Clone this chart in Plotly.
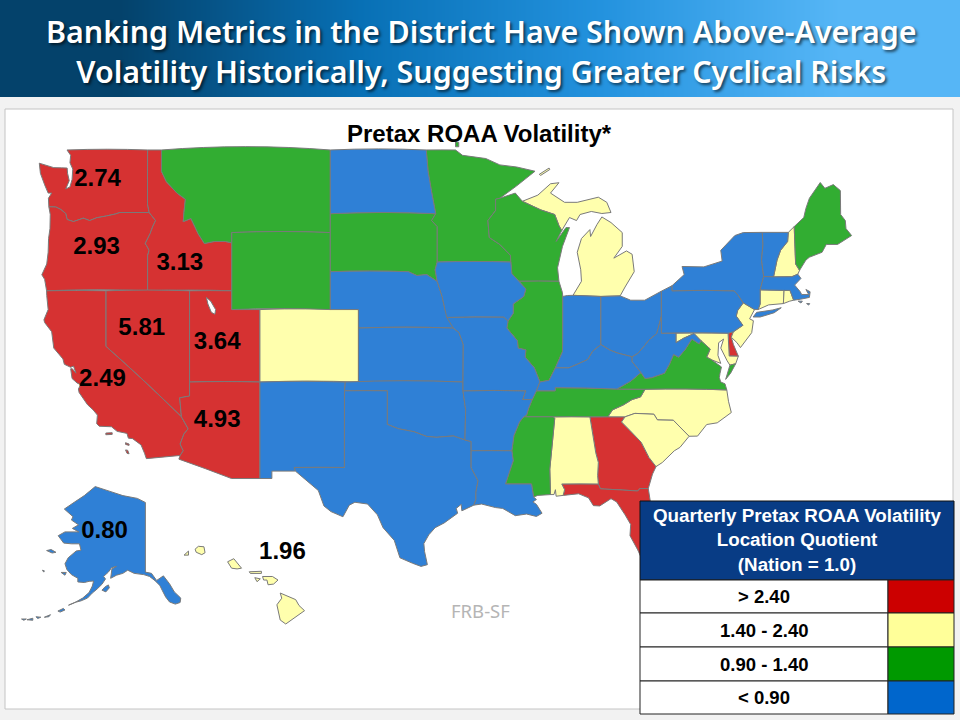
"""Pretax ROAA volatility by state, filled outlines on a Mercator geo subplot."""

import math

import plotly.graph_objects as go

# Values printed on the map (District states only)
label_states = ["WA", "OR", "ID", "NV", "UT", "CA", "AZ", "AK", "HI"]
label_values = ["2.74", "2.93", "3.13", "5.81", "3.64", "2.49", "4.93", "0.80", "1.96"]
label_lon = [-120.59, -120.66, -114.74, -117.45, -112.09, -120.24, -112.09, -120.09, -107.45]
label_lat = [47.59, 44.21, 43.41, 39.97, 39.21, 37.11, 34.77, 28.03, 26.71]

# Colour band of every state
band_high = ["WA", "OR", "ID", "NV", "CA", "UT", "AZ", "GA", "FL", "DE"]
band_upper = ["CO", "MI", "NH", "CT", "RI", "NJ", "MD", "NC", "SC", "AL", "HI"]
band_mid = ["MT", "WY", "SD", "MN", "WI", "IL", "TN", "MS", "VA", "ME"]
band_low = ["ND", "NE", "KS", "OK", "TX", "NM", "AR", "LA", "MO", "IA", "IN", "OH",
            "KY", "WV", "PA", "NY", "VT", "MA", "AK"]

legend_labels = ["> 2.40", "1.40 - 2.40", "0.90 - 1.40", "< 0.90"]
legend_colors = ["#cc0000", "#ffff99", "#009900", "#0066cc"]
map_colors = ["#d63232", "#ffffad", "#32ad32", "#2f80d6"]

# State outlines, lon/lat. No basemap can be fetched here so they live in the file.
WA = [[(-117.03, 49), (-122.76, 49), (-122.5, 48.75), (-122.55, 48.4), (-122.35, 48.1), (-122.4, 47.6),
       (-122.55, 47.25), (-122.85, 47.15), (-122.6, 47.55), (-122.72, 47.9), (-122.75, 48.15), (-123.15, 48.16),
       (-123.7, 48.17), (-124.73, 48.38), (-124.65, 47.9), (-124.35, 47.35), (-124.1, 46.95), (-123.85, 46.95),
       (-124.08, 46.7), (-124.05, 46.28), (-123.55, 46.27), (-123.2, 46.15), (-122.85, 45.95), (-122.75, 45.65),
       (-122.3, 45.55), (-121.6, 45.72), (-121.15, 45.6), (-120.65, 45.74), (-119.95, 45.83), (-119.3, 45.93),
       (-119, 46), (-116.92, 46), (-117.04, 46.42), (-117.04, 47.5)]]
OR = [[(-124.05, 46.28), (-123.55, 46.27), (-123.2, 46.15), (-122.85, 45.95), (-122.75, 45.65), (-122.3, 45.55),
       (-121.6, 45.72), (-121.15, 45.6), (-120.65, 45.74), (-119.95, 45.83), (-119.3, 45.93), (-119, 46),
       (-116.92, 46), (-116.47, 45.6), (-116.67, 45.3), (-116.85, 44.95), (-117.2, 44.45), (-117.03, 44.25),
       (-116.93, 44.1), (-117.03, 43.83), (-117.03, 42), (-124.21, 42), (-124.35, 42.6), (-124.55, 42.84),
       (-124.2, 43.4), (-124.1, 44), (-124.07, 44.7), (-123.97, 45.2), (-123.95, 45.9)]]
ID = [[(-117.03, 49), (-116.05, 49), (-116.05, 48), (-115.7, 47.5), (-114.95, 46.95), (-114.35, 46.65),
       (-114.45, 46), (-114.5, 45.55), (-113.95, 45.7), (-113.45, 44.95), (-113, 44.45), (-112.3, 44.55),
       (-111.5, 44.55), (-111.05, 44.48), (-111.05, 42), (-117.03, 42), (-117.03, 43.83), (-116.93, 44.1),
       (-117.03, 44.25), (-117.2, 44.45), (-116.85, 44.95), (-116.67, 45.3), (-116.47, 45.6), (-116.92, 46),
       (-117.04, 46.42), (-117.04, 47.5)]]
MT = [[(-116.05, 49), (-104.05, 49), (-104.05, 45), (-111.05, 45), (-111.05, 44.48), (-111.5, 44.55),
       (-112.3, 44.55), (-113, 44.45), (-113.45, 44.95), (-113.95, 45.7), (-114.5, 45.55), (-114.45, 46),
       (-114.35, 46.65), (-114.95, 46.95), (-115.7, 47.5), (-116.05, 48)]]
WY = [[(-111.05, 45), (-104.05, 45), (-104.05, 41), (-111.05, 41)]]
UT = [[(-114.05, 42), (-111.05, 42), (-111.05, 41), (-109.05, 41), (-109.05, 37), (-114.05, 37)]]
UT_LAKE = [(-112.85, 41.65), (-112.55, 41.45), (-112.2, 41.0), (-112.25, 40.75), (-112.5, 40.85), (-112.75, 41.3)]
NV = [[(-120, 42), (-114.05, 42), (-114.05, 36.2), (-114.75, 36.1), (-114.63, 35), (-120, 39)]]
CA = [[(-124.21, 42), (-120, 42), (-120, 39), (-114.63, 35), (-114.15, 34.3), (-114.45, 34), (-114.72, 33.4),
       (-114.5, 33), (-114.72, 32.72), (-117.12, 32.53), (-117.25, 32.85), (-117.5, 33.35), (-118.1, 33.72),
       (-118.4, 33.75), (-118.5, 34.03), (-119.2, 34.15), (-119.6, 34.42), (-120.47, 34.45), (-120.65, 34.6),
       (-120.6, 35.1), (-120.9, 35.4), (-121.3, 35.7), (-121.9, 36.4), (-121.95, 36.6), (-121.8, 36.85),
       (-122.05, 36.95), (-122.4, 37.2), (-122.5, 37.75), (-122.38, 37.75), (-122.12, 37.5), (-122.3, 37.9),
       (-122.5, 37.83), (-122.95, 38), (-123.05, 38.3), (-123.7, 38.9), (-123.85, 39.8), (-124.35, 40.3),
       (-124.4, 40.45), (-124.1, 41), (-124.2, 41.75)],
      [(-120.0, 34.05), (-119.55, 34.07), (-119.55, 33.97), (-120.0, 33.95)],
      [(-118.6, 33.48), (-118.35, 33.4), (-118.35, 33.32), (-118.6, 33.38)],
      [(-118.6, 33.05), (-118.45, 33.03), (-118.35, 32.82), (-118.5, 32.85)]]
AZ = [[(-114.05, 37), (-109.05, 37), (-109.05, 31.33), (-111.07, 31.33), (-114.81, 32.5), (-114.72, 32.72),
       (-114.5, 33), (-114.72, 33.4), (-114.45, 34), (-114.15, 34.3), (-114.63, 35), (-114.75, 36.1),
       (-114.05, 36.2)]]
CO = [[(-109.05, 41), (-102.05, 41), (-102.05, 37), (-109.05, 37)]]
NM = [[(-109.05, 37), (-103, 37), (-103.04, 36.5), (-103.05, 32), (-106.62, 32), (-106.53, 31.78), (-108.2, 31.78),
       (-108.2, 31.33), (-109.05, 31.33)]]
TX = [[(-103.04, 36.5), (-100, 36.5), (-100, 34.56), (-99.2, 34.3), (-98.1, 34.13), (-97.2, 33.85), (-96.5, 33.8),
       (-95.3, 33.88), (-94.48, 33.64), (-94.04, 33.55), (-94.04, 33), (-94.04, 31.99), (-93.55, 31.2),
       (-93.7, 30.5), (-93.7, 30.05), (-93.85, 29.7), (-94.7, 29.35), (-94.75, 29.75), (-95.1, 29.5), (-95, 29.2),
       (-95.95, 28.6), (-96.6, 28.3), (-97.05, 27.85), (-97.4, 27.3), (-97.35, 26.8), (-97.15, 25.96),
       (-97.6, 25.85), (-98.2, 26.05), (-99.1, 26.4), (-99.5, 27.5), (-100.3, 28.3), (-100.7, 29.1), (-101.4, 29.77),
       (-102.3, 29.88), (-102.7, 29.7), (-103.15, 28.98), (-104, 29.3), (-104.5, 29.65), (-104.9, 30.6),
       (-106, 31.4), (-106.53, 31.78), (-106.62, 32), (-103.05, 32)]]
OK = [[(-103, 37), (-94.62, 37), (-94.62, 36.5), (-94.43, 35.4), (-94.48, 33.64), (-95.3, 33.88), (-96.5, 33.8),
       (-97.2, 33.85), (-98.1, 34.13), (-99.2, 34.3), (-100, 34.56), (-100, 36.5), (-103.04, 36.5)]]
KS = [[(-102.05, 40), (-95.31, 40), (-94.9, 39.75), (-94.6, 39.1), (-94.62, 37), (-102.05, 37)]]
NE = [[(-104.05, 43), (-98.5, 43), (-97.9, 42.8), (-97.2, 42.85), (-96.45, 42.49), (-96.1, 41.7), (-95.9, 41),
       (-95.31, 40), (-102.05, 40), (-102.05, 41), (-104.05, 41)]]
SD = [[(-104.05, 45.94), (-96.56, 45.94), (-96.85, 45.6), (-96.45, 45.3), (-96.45, 43.5), (-96.6, 43.1),
       (-96.45, 42.49), (-97.2, 42.85), (-97.9, 42.8), (-98.5, 43), (-104.05, 43)]]
ND = [[(-104.05, 49), (-97.23, 49), (-97.1, 48), (-96.85, 47), (-96.56, 45.94), (-104.05, 45.94)]]
MN = [[(-97.23, 49), (-95.15, 49), (-94.65, 48.75), (-93, 48.6), (-92, 48.3), (-90.8, 48.2), (-89.5, 48),
       (-90.8, 47.3), (-92, 46.7), (-92.3, 46.65), (-92.3, 46.1), (-92.85, 45.6), (-92.75, 44.75), (-92, 44.4),
       (-91.25, 43.85), (-91.22, 43.5), (-96.45, 43.5), (-96.45, 45.3), (-96.85, 45.6), (-96.56, 45.94),
       (-96.85, 47), (-97.1, 48)],
      [(-95.15, 49.38), (-94.92, 49.36), (-94.92, 49.15), (-95.15, 49.15)]]
IA = [[(-96.45, 43.5), (-91.22, 43.5), (-91.15, 42.9), (-90.65, 42.5), (-90.15, 42.1), (-90.3, 41.7), (-91.05, 41.3),
       (-91.05, 40.8), (-91.42, 40.38), (-91.72, 40.6), (-95.77, 40.58), (-95.9, 41), (-96.1, 41.7), (-96.45, 42.49),
       (-96.6, 43.1)]]
MO = [[(-95.77, 40.58), (-91.72, 40.6), (-91.42, 40.38), (-91.5, 40), (-90.75, 39.3), (-90.7, 38.9), (-90.15, 38.8),
       (-90.2, 38.4), (-89.55, 37.8), (-89.15, 37), (-89.4, 36.5), (-89.7, 36), (-90.37, 36), (-90.15, 36.5),
       (-94.62, 36.5), (-94.62, 37), (-94.6, 39.1), (-94.9, 39.75), (-95.31, 40)]]
AR = [[(-94.62, 36.5), (-90.15, 36.5), (-90.37, 36), (-89.7, 36), (-89.95, 35.5), (-90.1, 35.1), (-90.3, 35),
       (-90.6, 34.7), (-91, 33.9), (-91.15, 33), (-94.04, 33), (-94.04, 33.55), (-94.48, 33.64), (-94.43, 35.4)]]
LA = [[(-94.04, 33), (-91.15, 33), (-91.05, 32.4), (-91.6, 31), (-89.75, 31), (-89.6, 30.2), (-89.4, 30.05),
       (-89.65, 29.9), (-89.4, 29.75), (-89, 29.2), (-89.4, 29), (-90.1, 29.15), (-90.9, 29.05), (-91.8, 29.5),
       (-92.3, 29.55), (-93.3, 29.77), (-93.85, 29.7), (-93.7, 30.05), (-93.7, 30.5), (-93.55, 31.2), (-94.04, 31.99)]]
MS = [[(-91.15, 33), (-91, 33.9), (-90.6, 34.7), (-90.3, 35), (-88.2, 35), (-88.1, 34.9), (-88.45, 31.9),
       (-88.4, 30.35), (-89.3, 30.3), (-89.6, 30.2), (-89.75, 31), (-91.6, 31), (-91.05, 32.4)]]
AL = [[(-88.2, 35), (-85.6, 35), (-85.18, 32.87), (-85, 32.3), (-85.05, 31.5), (-85, 31), (-87.6, 31), (-87.4, 30.65),
       (-87.5, 30.3), (-88, 30.25), (-88.05, 30.65), (-88.15, 30.35), (-88.4, 30.35), (-88.45, 31.9), (-88.1, 34.9)]]
GA = [[(-85.6, 35), (-83.1, 35), (-83.35, 34.7), (-82.75, 34.2), (-81.95, 33.5), (-81.4, 32.6), (-80.9, 32.05),
       (-81.15, 31.6), (-81.45, 30.72), (-82.05, 30.72), (-82.2, 30.57), (-84.85, 30.7), (-85, 31), (-85.05, 31.5),
       (-85, 32.3), (-85.18, 32.87)]]
FL = [[(-87.6, 31), (-85, 31), (-84.85, 30.7), (-82.2, 30.57), (-82.05, 30.72), (-81.45, 30.72), (-81.3, 29.9),
       (-80.6, 28.5), (-80.05, 26.9), (-80.15, 25.75), (-80.4, 25.2), (-81.1, 25.15), (-81.8, 26.1), (-82.2, 26.9),
       (-82.75, 27.8), (-82.7, 28.5), (-83.1, 29.1), (-83.7, 29.9), (-84.1, 30.1), (-84.9, 29.65), (-85.35, 29.67),
       (-85.7, 30.15), (-86.4, 30.4), (-87.5, 30.3), (-87.4, 30.65)]]
TN = [[(-90.3, 35), (-88.2, 35), (-85.6, 35), (-84.32, 35), (-84, 35.4), (-83.2, 35.7), (-82.6, 36), (-82, 36.15),
       (-81.68, 36.59), (-83.68, 36.6), (-88.07, 36.68), (-88.07, 36.5), (-89.4, 36.5), (-89.7, 36), (-89.95, 35.5),
       (-90.1, 35.1)]]
KY = [[(-89.4, 36.5), (-89.15, 37), (-88.5, 37.1), (-88.05, 37.8), (-87.1, 37.8), (-86.5, 38), (-85.75, 38.27),
       (-85.4, 38.73), (-84.82, 39.1), (-84.2, 38.8), (-83.65, 38.63), (-82.6, 38.42), (-82.6, 38.15), (-81.97, 37.54),
       (-82.7, 37.05), (-83.68, 36.6), (-88.07, 36.68), (-88.07, 36.5)]]
VA = [[(-83.68, 36.6), (-81.68, 36.59), (-75.87, 36.55), (-76, 36.9), (-76.3, 37), (-76.4, 37.25), (-76.35, 37.5),
       (-76.25, 37.85), (-76.95, 38.25), (-77.3, 38.4), (-77.05, 38.85), (-77.72, 39.32), (-77.83, 39.13),
       (-78.35, 39.4), (-78.85, 38.8), (-79.3, 38.4), (-79.65, 38.55), (-79.95, 38), (-80.3, 37.5), (-81.2, 37.25),
       (-81.68, 37.2), (-81.97, 37.54), (-82.7, 37.05)],
      [(-75.24, 38.03), (-75.65, 37.95), (-75.95, 37.15), (-75.6, 37.5)]]
NC = [[(-84.32, 35), (-83.1, 35), (-82.4, 35.2), (-81.05, 35.15), (-80.8, 34.82), (-79.67, 34.8), (-78.55, 33.86),
       (-77.95, 33.87), (-77.3, 34.55), (-76.55, 34.65), (-75.55, 35.25), (-75.75, 35.9), (-75.87, 36.55),
       (-81.68, 36.59), (-82, 36.15), (-82.6, 36), (-83.2, 35.7), (-84, 35.4)]]
SC = [[(-83.1, 35), (-83.35, 34.7), (-82.75, 34.2), (-81.95, 33.5), (-81.4, 32.6), (-80.9, 32.05), (-80.45, 32.3),
       (-79.6, 33), (-79.2, 33.2), (-78.55, 33.86), (-79.67, 34.8), (-80.8, 34.82), (-81.05, 35.15), (-82.4, 35.2)]]
WV = [[(-82.6, 38.42), (-82.2, 38.6), (-81.75, 39), (-81.4, 39.35), (-80.85, 39.7), (-80.52, 40.64), (-80.52, 39.72),
       (-79.48, 39.72), (-79.48, 39.2), (-78.95, 39.44), (-78.35, 39.65), (-78.2, 39.7), (-77.72, 39.32),
       (-77.83, 39.13), (-78.35, 39.4), (-78.85, 38.8), (-79.3, 38.4), (-79.65, 38.55), (-79.95, 38), (-80.3, 37.5),
       (-81.2, 37.25), (-81.68, 37.2), (-81.97, 37.54), (-82.6, 38.15)]]
OH = [[(-84.82, 41.7), (-83.45, 41.73), (-82.7, 41.5), (-81.7, 41.5), (-80.52, 41.98), (-80.52, 40.64), (-80.85, 39.7),
       (-81.4, 39.35), (-81.75, 39), (-82.2, 38.6), (-82.6, 38.42), (-83.65, 38.63), (-84.2, 38.8), (-84.82, 39.1)]]
IN = [[(-87.53, 41.7), (-87.2, 41.75), (-86.8, 41.76), (-84.82, 41.7), (-84.82, 39.1), (-85.4, 38.73), (-85.75, 38.27),
       (-86.5, 38), (-87.1, 37.8), (-88.05, 37.8), (-87.55, 38.7), (-87.53, 39.35)]]
IL = [[(-90.65, 42.5), (-87.8, 42.5), (-87.55, 41.9), (-87.53, 41.7), (-87.53, 39.35), (-87.55, 38.7), (-88.05, 37.8),
       (-88.5, 37.1), (-89.15, 37), (-89.55, 37.8), (-90.2, 38.4), (-90.15, 38.8), (-90.7, 38.9), (-90.75, 39.3),
       (-91.5, 40), (-91.42, 40.38), (-91.05, 40.8), (-91.05, 41.3), (-90.3, 41.7), (-90.15, 42.1)]]
WI = [[(-92.3, 46.65), (-92, 46.7), (-90.9, 46.95), (-90.4, 46.55), (-89.1, 46.13), (-88.1, 45.9), (-87.8, 45.35),
       (-87.6, 45.1), (-88, 44.55), (-87.3, 45.25), (-87.05, 45.25), (-87.55, 44.3), (-87.9, 43.2), (-87.8, 42.5),
       (-90.65, 42.5), (-91.15, 42.9), (-91.22, 43.5), (-91.25, 43.85), (-92, 44.4), (-92.75, 44.75), (-92.85, 45.6),
       (-92.3, 46.1)]]
MI = [[(-90.4, 46.55), (-89.3, 46.85), (-88.4, 47.4), (-87.8, 47.45), (-88.4, 46.95), (-87.4, 46.5), (-86.5, 46.5),
       (-85, 46.75), (-84.4, 46.5), (-84.1, 46), (-84.75, 45.95), (-85.5, 46.05), (-86.3, 45.9), (-86.55, 45.6),
       (-87.05, 45.75), (-87.6, 45.1), (-87.8, 45.35), (-88.1, 45.9), (-89.1, 46.13)],
      [(-86.8, 41.76), (-84.82, 41.7), (-83.45, 41.73), (-83.1, 42.2), (-82.45, 43), (-82.6, 43.9), (-83, 44.07),
       (-83.9, 43.7), (-83.3, 44.3), (-83.3, 45), (-84.1, 45.5), (-84.75, 45.78), (-85.1, 45.4), (-85.55, 44.8),
       (-85.6, 45.15), (-86.2, 44.7), (-86.5, 44), (-86.25, 43.1), (-86.2, 42.5)],
      [(-89.2, 47.85), (-88.5, 48.15), (-88.45, 48.08), (-89.1, 47.8)]]
PA = [[(-80.52, 41.98), (-79.76, 42.27), (-79.76, 42), (-75.35, 42), (-75.05, 41.75), (-74.7, 41.36), (-75.1, 40.95),
       (-75.2, 40.65), (-74.73, 40.15), (-75.4, 39.8), (-75.78, 39.72), (-80.52, 39.72)]]
NY = [[(-79.76, 42.27), (-78.9, 42.85), (-79.05, 43.27), (-77.5, 43.25), (-76.2, 43.55), (-76.3, 44.1), (-75.3, 44.85),
       (-74.7, 45), (-73.35, 45.01), (-73.3, 44.4), (-73.4, 43.6), (-73.25, 42.75), (-73.5, 42.05), (-73.5, 41.3),
       (-73.65, 41), (-73.9, 41), (-74.7, 41.36), (-75.05, 41.75), (-75.35, 42), (-79.76, 42)],
      [(-74.0, 40.6), (-73.75, 40.85), (-72.6, 40.98), (-72, 41.1), (-72.5, 40.83), (-73.5, 40.6)]]
VT = [[(-73.35, 45.01), (-71.5, 45.01), (-71.55, 44.55), (-72.05, 44.1), (-72.3, 43.6), (-72.55, 42.73), (-73.25, 42.75),
       (-73.4, 43.6), (-73.3, 44.4)]]
NH = [[(-71.5, 45.01), (-71.08, 45.3), (-70.98, 43.4), (-70.7, 43.07), (-70.82, 42.87), (-71.25, 42.74), (-72.55, 42.73),
       (-72.3, 43.6), (-72.05, 44.1), (-71.55, 44.55)]]
ME = [[(-71.08, 45.3), (-70.4, 45.75), (-70.25, 46.2), (-70, 46.7), (-69.23, 47.46), (-68.9, 47.18), (-68.3, 47.36),
       (-67.8, 47.07), (-67.78, 45.9), (-67.45, 45.6), (-67.4, 45.2), (-67, 44.85), (-68, 44.4), (-68.8, 44.4),
       (-69.1, 44), (-70, 43.75), (-70.25, 43.6), (-70.7, 43.07), (-70.98, 43.4)]]
MA = [[(-73.5, 42.05), (-73.25, 42.75), (-72.55, 42.73), (-71.25, 42.74), (-70.82, 42.87), (-70.6, 42.65), (-71.05, 42.3),
       (-70.65, 41.95), (-70.55, 41.8), (-70.05, 41.8), (-70.25, 42.07), (-69.95, 41.95), (-70, 41.65), (-70.65, 41.55),
       (-71.12, 41.5), (-71.38, 42.02), (-71.8, 42.02)],
      [(-70.8, 41.45), (-70.5, 41.45), (-70.6, 41.35)],
      [(-70.2, 41.32), (-69.98, 41.32), (-70.05, 41.24)]]
RI = [[(-71.8, 42.02), (-71.38, 42.02), (-71.12, 41.5), (-71.4, 41.45), (-71.85, 41.32)]]
CT = [[(-73.5, 42.05), (-71.8, 42.02), (-71.85, 41.32), (-72.9, 41.25), (-73.65, 41), (-73.5, 41.3)]]
NJ = [[(-74.7, 41.36), (-73.9, 41), (-74.25, 40.5), (-73.98, 40.4), (-74.1, 39.75), (-74.9, 38.93), (-75.15, 39.2),
       (-75.55, 39.5), (-75.4, 39.8), (-74.73, 40.15), (-75.2, 40.65), (-75.1, 40.95)]]
DE = [[(-75.78, 39.72), (-75.4, 39.8), (-75.55, 39.5), (-75.4, 39.1), (-75.05, 38.45), (-75.7, 38.46)]]
MD = [[(-79.48, 39.72), (-75.78, 39.72), (-75.7, 38.46), (-75.05, 38.45), (-75.24, 38.03), (-75.65, 37.95), (-75.85, 38.2),
       (-76.3, 38.9), (-76.1, 39.4), (-76.45, 39.2), (-76.5, 38.5), (-76.3, 38.05), (-76.95, 38.25), (-77.3, 38.4),
       (-77.05, 38.85), (-77.72, 39.32), (-78.2, 39.7), (-78.35, 39.65), (-78.95, 39.44), (-79.48, 39.2)]]
AK = [[(-141, 69.65), (-143.5, 70.1), (-148, 70.4), (-152, 70.85), (-156.6, 71.35), (-160, 70.4), (-163, 69.7),
       (-166.2, 68.9), (-163.5, 68), (-164, 67.6), (-161.8, 67), (-163.7, 66.55), (-161.7, 66.1), (-166, 66.1),
       (-168.1, 65.6), (-166.4, 64.6), (-164, 64.5), (-161.5, 64.5), (-161, 63.6), (-162.5, 63.5), (-165, 62.5),
       (-166, 61.6), (-165.4, 60.7), (-164, 59.9), (-162, 59.3), (-162, 58.7), (-160, 58.6), (-158.5, 58.8),
       (-157.1, 58.85), (-157.5, 58), (-158.5, 56.9), (-160.5, 55.9), (-163.2, 55), (-164.9, 54.6), (-163, 55.1),
       (-161, 55.4), (-159, 55.9), (-157.5, 56.8), (-156, 57.5), (-154.5, 58.3), (-153.4, 59.2), (-154, 59.6),
       (-152.5, 60.3), (-151.5, 61), (-150, 61.2), (-151.4, 60.8), (-151.8, 59.3), (-150, 59.8), (-148, 60.1),
       (-146.5, 60.6), (-144.5, 60.1), (-141.5, 59.9), (-139.7, 59.6), (-138, 58.9), (-136.5, 58.1), (-135.7, 57.2),
       (-134.7, 56.1), (-133.5, 55.2), (-131.7, 54.8), (-130.2, 55.1), (-130, 55.9), (-132, 57), (-133.5, 58.4),
       (-135.4, 59.7), (-137.5, 58.95), (-139.1, 60.1), (-141, 60.3)],
      [(-154.5, 57.3), (-153.3, 57), (-152.2, 57.7), (-152.5, 58.2), (-153.5, 57.9)],
      [(-167.2, 60.25), (-166, 59.8), (-165.6, 60.25)],
      [(-171.7, 63.55), (-170, 63.2), (-168.8, 63.3), (-170.3, 63.7)],
      [(-173, 60.6), (-172.6, 60.3), (-172.4, 60.5)],
      [(-168.2, 53.5), (-166.5, 54), (-166, 53.7), (-167.5, 53.3)],
      [(-172.4, 52.3), (-170.5, 52.8), (-171, 52.4)],
      [(-177.8, 51.8), (-176, 52.1), (-176, 51.7)],
      [(-175, 52.4), (-173.5, 52.3), (-174.5, 52.05)],
      [(-179.5, 51.95), (-178, 51.95), (-178.8, 51.7)]]
HI = [[(-155.9, 20.25), (-155.2, 19.97), (-155.05, 19.72), (-154.8, 19.5), (-155.65, 18.93), (-155.9, 19.1),
       (-156.05, 19.75), (-155.83, 20.03)],
      [(-156.7, 20.95), (-156.25, 20.95), (-156, 20.8), (-156.2, 20.63), (-156.45, 20.6), (-156.5, 20.8), (-156.65, 20.8)],
      [(-157.05, 20.9), (-156.8, 20.85), (-156.95, 20.73)],
      [(-157.3, 21.15), (-156.75, 21.17), (-156.75, 21.08), (-157.25, 21.08)],
      [(-158.28, 21.57), (-158, 21.7), (-157.65, 21.3), (-157.85, 21.27), (-158.1, 21.3)],
      [(-159.75, 22.1), (-159.6, 22.22), (-159.35, 22.2), (-159.3, 21.95), (-159.45, 21.87), (-159.7, 21.97)],
      [(-160.25, 21.85), (-160.05, 22.02), (-160.05, 21.85)]]

outlines = dict(WA=WA, OR=OR, ID=ID, MT=MT, WY=WY, UT=UT, NV=NV, CA=CA, AZ=AZ, CO=CO, NM=NM, TX=TX, OK=OK, KS=KS,
                NE=NE, SD=SD, ND=ND, MN=MN, IA=IA, MO=MO, AR=AR, LA=LA, MS=MS, AL=AL, GA=GA, FL=FL, TN=TN, KY=KY,
                VA=VA, NC=NC, SC=SC, WV=WV, OH=OH, IN=IN, IL=IL, WI=WI, MI=MI, PA=PA, NY=NY, VT=VT, NH=NH, ME=ME,
                MA=MA, RI=RI, CT=CT, NJ=NJ, DE=DE, MD=MD, AK=AK, HI=HI)


def merc(lat):
    return math.degrees(math.log(math.tan(math.pi / 4 + math.radians(lat) / 2)))


def inv_merc(m):
    return 2 * math.degrees(math.atan(math.exp(math.radians(m)))) - 90


def inset(ring, src, dst, kx, ky):
    """Shift and shrink a ring on the Mercator plane, like the usual AK/HI inset."""
    out = []
    for lon, lat in ring:
        new_lon = dst[0] + (lon - src[0]) * kx
        new_lat = inv_merc(merc(dst[1]) + (merc(lat) - merc(src[1])) * ky)
        out.append((new_lon, new_lat))
    return out


def wound(ring):
    """d3-geo wants polygon rings clockwise, else it fills the rest of the globe."""
    pts = list(ring)
    area = sum(pts[i][0] * pts[(i + 1) % len(pts)][1] - pts[(i + 1) % len(pts)][0] * pts[i][1] for i in range(len(pts)))
    if area > 0:
        pts.reverse()
    return pts + [pts[0]]


outlines["AK"] = [inset(r, (-141, 71.35), (-117.19, 30.84), 0.2286, 0.2214) for r in AK]
outlines["HI"] = [inset(r, (-155.5, 19.6), (-106.98, 23.14), 1.571, 1.571) for r in HI]


def state_trace(code, rings, fill):
    lons, lats = [], []
    for ring in rings:
        closed = wound(ring)
        lons += [p[0] for p in closed] + [None]
        lats += [p[1] for p in closed] + [None]
    return go.Scattergeo(
        lon=lons[:-1],
        lat=lats[:-1],
        name=code,
        mode="lines",
        fill="toself",
        fillcolor=fill,
        line=dict(color="#7a7a7a", width=1),
    )


def px(x):
    return x / 960


def py(y):
    return 1 - y / 720


def note(text, x, y, **font):
    return dict(text=text, xref="paper", yref="paper", x=px(x), y=py(y), xanchor="center", yanchor="middle",
                showarrow=False, font=font)


fig = go.Figure()

# Title band gradient
fig.add_trace(
    go.Heatmap(
        z=[[0, 0.33, 0.66, 1], [0, 0.33, 0.66, 1]],
        zsmooth="best",
        colorscale=[[0, "#04426b"], [0.33, "#0870b5"], [0.66, "#2392de"], [1, "#56b6f6"]],
        showscale=False,
        hoverinfo="skip",
    )
)
for band, color in zip([band_high, band_upper, band_mid, band_low], map_colors):
    for code in band:
        fig.add_trace(state_trace(code, outlines[code], color))
fig.add_trace(state_trace("Great Salt Lake", [UT_LAKE], "white"))
fig.add_trace(
    go.Scattergeo(
        lon=label_lon,
        lat=label_lat,
        text=label_values,
        customdata=label_states,
        mode="text",
        textfont=dict(family="Liberation Sans", size=24, color="black", weight="bold"),
        textposition="middle center",
    )
)

shapes = [
    dict(type="rect", xref="paper", yref="paper", x0=px(5), x1=px(953), y0=py(109), y1=py(709),
         fillcolor="white", line=dict(color="#c4c4c4", width=1), layer="below"),
    dict(type="rect", xref="paper", yref="paper", x0=px(640), x1=px(954), y0=py(501), y1=py(580),
         fillcolor="#083c85", line=dict(color="#111", width=1), layer="above"),
]
annotations = [
    note("Banking Metrics in the District Have Shown Above-Average<br>"
         "Volatility Historically, Suggesting Greater Cyclical Risks", 481, 52,
         family="Noto Sans", size=30.4, color="white", weight=600, shadow="2px 2px 3px rgba(0,0,0,0.6)"),
    note("Pretax ROAA Volatility*", 479, 133, family="Liberation Sans", size=24, color="black", weight="bold"),
    note("FRB-SF", 480, 610, family="Noto Sans", size=18.5, color="#b5b5b5"),
    note("Quarterly Pretax ROAA Volatility<br>Location Quotient<br>(Nation = 1.0)", 797, 540,
         family="Liberation Sans", size=18.8, color="white", weight="bold"),
]

row_edges = [580, 613, 647, 681, 714]
for i, (label, color) in enumerate(zip(legend_labels, legend_colors)):
    top, bottom = row_edges[i], row_edges[i + 1]
    shapes.append(dict(type="rect", xref="paper", yref="paper", x0=px(640), x1=px(888), y0=py(top), y1=py(bottom),
                       fillcolor="white", line=dict(color="#222", width=1), layer="above"))
    shapes.append(dict(type="rect", xref="paper", yref="paper", x0=px(888), x1=px(954), y0=py(top), y1=py(bottom),
                       fillcolor=color, line=dict(color="#222", width=1), layer="above"))
    annotations.append(note(label, 764, (top + bottom) / 2, family="Liberation Sans", size=18.5,
                            color="black", weight="bold"))

fig.update_layout(
    width=960,
    height=720,
    margin=dict(l=0, r=0, t=0, b=0),
    paper_bgcolor="#f2f2f2",
    showlegend=False,
    xaxis=dict(domain=[0, 1], visible=False),
    yaxis=dict(domain=[py(97), 1], visible=False),
    geo=dict(
        domain=dict(x=[0, 1], y=[0, 1]),
        projection_type="mercator",
        projection_scale=1.015,
        center=dict(lon=-93.41, lat=38.24),
        lonaxis_range=[-127.69, -59.12],
        lataxis_range=[15.55, 55.58],
        bgcolor="rgba(0,0,0,0)",
        showland=False,
        showocean=False,
        showlakes=False,
        showrivers=False,
        showcountries=False,
        showcoastlines=False,
        showsubunits=False,
        showframe=False,
    ),
    shapes=shapes,
    annotations=annotations,
)

fig.write_html("out.html", config=dict(displayModeBar=False), post_script="document.body.style.margin = 0;")
